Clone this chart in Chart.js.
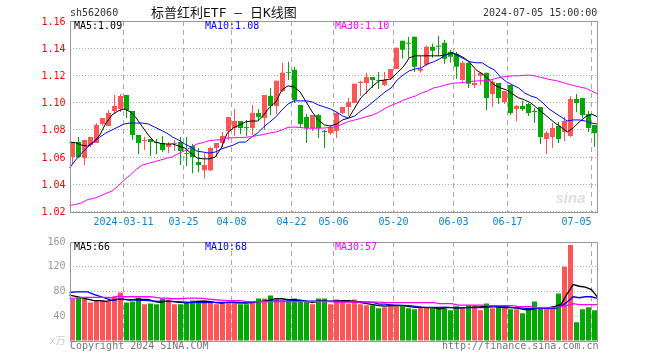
<!DOCTYPE html>
<html>
<head>
<meta charset="utf-8">
<title>sh562060</title>
<script src="https://cdn.jsdelivr.net/npm/chart.js@4/dist/chart.umd.js"></script>
<style>
  html, body { margin:0; padding:0; background:#fff; }
  #wrap { position:relative; width:660px; height:360px; overflow:hidden; }
  canvas { position:absolute; left:0; }
  .txt { position:absolute; font:10px 'DejaVu Sans Mono','Noto Sans CJK SC',monospace; line-height:12px; white-space:pre; }
</style>
</head>
<body>
<div id="wrap">
  <canvas id="chart-k" width="660" height="232" style="top:0"></canvas>
  <canvas id="chart-vol" width="660" height="128" style="top:232px"></canvas>
  <div class="txt" style="left:70px;top:7px;color:#333">sh562060</div>
  <div class="txt" style="left:151px;top:5px;color:#111;font-size:13px;line-height:15px">标普红利ETF — 日K线图</div>
  <div class="txt" style="left:483px;top:7px;color:#333">2024-07-05 15:00:00</div>
  <div class="txt" style="left:70px;top:340px;color:#777">Copyright 2024 SINA.COM</div>
  <div class="txt" style="left:442px;top:340px;color:#777">http://finance.sina.com.cn</div>
</div>
<script>
const dates = [
  '2024-02-27','2024-02-28','2024-02-29','2024-03-01','2024-03-04','2024-03-05','2024-03-06','2024-03-07','2024-03-08',
  '2024-03-11','2024-03-12','2024-03-13','2024-03-14','2024-03-15','2024-03-18','2024-03-19','2024-03-20','2024-03-21','2024-03-22',
  '2024-03-25','2024-03-26','2024-03-27','2024-03-28','2024-03-29','2024-04-01','2024-04-02','2024-04-03',
  '2024-04-08','2024-04-09','2024-04-10','2024-04-11','2024-04-12','2024-04-15','2024-04-16','2024-04-17','2024-04-18','2024-04-19',
  '2024-04-22','2024-04-23','2024-04-24','2024-04-25','2024-04-26','2024-04-29','2024-04-30',
  '2024-05-06','2024-05-07','2024-05-08','2024-05-09','2024-05-10','2024-05-13','2024-05-14','2024-05-15','2024-05-16','2024-05-17',
  '2024-05-20','2024-05-21','2024-05-22','2024-05-23','2024-05-24','2024-05-27','2024-05-28','2024-05-29','2024-05-30','2024-05-31',
  '2024-06-03','2024-06-04','2024-06-05','2024-06-06','2024-06-07','2024-06-11','2024-06-12','2024-06-13','2024-06-14',
  '2024-06-17','2024-06-18','2024-06-19','2024-06-20','2024-06-21','2024-06-24','2024-06-25','2024-06-26','2024-06-27','2024-06-28',
  '2024-07-01','2024-07-02','2024-07-03','2024-07-04','2024-07-05'
];
const xTickDates = ['2024-03-11','2024-03-25','2024-04-08','2024-04-22','2024-05-06','2024-05-20','2024-06-03','2024-06-17','2024-07-05'];

const openPrices = [
  1.0600,1.0710,1.0593,1.0688,1.0703,1.0843,1.0828,1.0939,1.0954,1.1057,1.0939,1.0762,1.0718,1.0733,1.0710,1.0703,1.0674,1.0696,1.0710,1.0629,1.0681,1.0563,
  1.0504,1.0504,1.0666,1.0703,1.0791,1.0814,1.0865,1.0821,1.0814,1.0924,1.0887,1.1049,1.0976,1.1086,1.1226,1.1241,1.0983,1.0895,1.0814,1.0909,1.0791,1.0777,
  1.0791,1.0924,1.0968,1.0998,1.1145,1.1145,1.1189,1.1167,1.1130,1.1182,1.1248,1.1455,1.1440,1.1484,1.1234,1.1278,1.1410,1.1418,1.1440,1.1374,1.1359,1.1167,
  1.1293,1.1130,1.1197,1.1219,1.1064,1.1145,1.1005,1.1130,1.0954,1.0976,1.0990,1.0939,1.0968,1.0733,1.0747,1.0828,1.0784,1.0755,1.1027,1.1035,1.0917,1.0836
];
const closePrices = [
  1.0710,1.0600,1.0725,1.0747,1.0836,1.0887,1.0924,1.0976,1.1049,1.0946,1.0762,1.0703,1.0725,1.0710,1.0703,1.0652,1.0696,1.0703,1.0644,1.0622,1.0600,1.0541,
  1.0541,1.0666,1.0703,1.0755,1.0895,1.0865,1.0814,1.0814,1.0924,1.0895,1.1057,1.0976,1.1160,1.1219,1.1219,1.1020,1.0843,1.0814,1.0909,1.0814,1.0784,1.0821,
  1.0924,1.0968,1.1005,1.1138,1.1153,1.1189,1.1167,1.1160,1.1167,1.1248,1.1403,1.1389,1.1432,1.1263,1.1248,1.1410,1.1381,1.1410,1.1322,1.1337,1.1263,1.1293,
  1.1138,1.1145,1.1219,1.1035,1.1153,1.1035,1.1086,1.0924,1.0976,1.0954,1.0924,1.0931,1.0747,1.0777,1.0814,1.0733,1.0865,1.1027,1.0998,1.0909,1.0814,1.0777
];
const highPrices = [
  1.0710,1.0747,1.0725,1.0747,1.0850,1.0887,1.0946,1.1057,1.1064,1.1057,1.0939,1.0762,1.0747,1.0733,1.0733,1.0755,1.0710,1.0725,1.0747,1.0747,1.0696,1.0666,
  1.0629,1.0674,1.0703,1.0784,1.0895,1.0954,1.0865,1.0873,1.0983,1.0954,1.1057,1.1108,1.1160,1.1293,1.1300,1.1263,1.0983,1.0917,1.0909,1.0917,1.0799,1.0836,
  1.0931,1.0968,1.1035,1.1138,1.1160,1.1219,1.1189,1.1226,1.1226,1.1248,1.1403,1.1455,1.1484,1.1484,1.1344,1.1418,1.1432,1.1491,1.1462,1.1389,1.1374,1.1307,
  1.1293,1.1241,1.1226,1.1219,1.1167,1.1145,1.1086,1.1130,1.0983,1.1013,1.0998,1.0961,1.0968,1.0791,1.0850,1.0858,1.0895,1.1049,1.1064,1.1035,1.0939,1.0836
];
const lowPrices = [
  1.0548,1.0593,1.0541,1.0674,1.0703,1.0828,1.0828,1.0917,1.0931,1.0887,1.0725,1.0622,1.0652,1.0607,1.0622,1.0637,1.0629,1.0644,1.0541,1.0534,1.0482,1.0489,
  1.0445,1.0497,1.0600,1.0674,1.0725,1.0755,1.0769,1.0755,1.0762,1.0865,1.0799,1.0909,1.0917,1.1079,1.1167,1.0998,1.0821,1.0703,1.0791,1.0740,1.0666,1.0762,
  1.0740,1.0917,1.0902,1.0998,1.1049,1.1064,1.1108,1.1101,1.1123,1.1167,1.1248,1.1322,1.1330,1.1226,1.1219,1.1271,1.1330,1.1344,1.1285,1.1293,1.1175,1.1153,
  1.1108,1.1108,1.1130,1.0946,1.0968,1.0990,1.0990,1.0909,1.0865,1.0939,1.0902,1.0850,1.0696,1.0622,1.0666,1.0703,1.0718,1.0747,1.0931,1.0887,1.0784,1.0674
];
const ma5Prices = [
  1.0710,1.0706,1.0688,1.0681,1.0712,1.0762,1.0850,1.0909,1.0939,1.0954,1.0933,1.0887,1.0823,1.0762,1.0712,1.0700,1.0696,1.0696,1.0681,1.0666,1.0629,1.0593,
  1.0587,1.0587,1.0600,1.0666,1.0777,1.0814,1.0836,1.0858,1.0865,1.0865,1.0909,1.0968,1.1005,1.1094,1.1123,1.1116,1.1079,1.1005,1.0931,1.0873,1.0836,1.0828,
  1.0843,1.0873,1.0887,1.0961,1.1035,1.1079,1.1123,1.1160,1.1167,1.1175,1.1219,1.1263,1.1330,1.1344,1.1344,1.1344,1.1344,1.1344,1.1352,1.1366,1.1352,1.1330,
  1.1293,1.1241,1.1212,1.1175,1.1130,1.1108,1.1094,1.1064,1.1035,1.1020,1.0998,1.0961,1.0924,1.0887,1.0850,1.0821,1.0784,1.0814,1.0858,1.0895,1.0917,1.0895
];
const ma10Prices = [
  1.0519,1.0578,1.0629,1.0674,1.0710,1.0747,1.0777,1.0799,1.0821,1.0843,1.0850,1.0850,1.0850,1.0843,1.0821,1.0799,1.0777,1.0747,1.0725,1.0696,1.0674,1.0644,
  1.0637,1.0629,1.0637,1.0659,1.0674,1.0688,1.0710,1.0710,1.0747,1.0777,1.0821,1.0858,1.0895,1.0946,1.0990,1.1013,1.1013,1.1013,1.1005,1.0983,1.0968,1.0954,
  1.0931,1.0902,1.0887,1.0902,1.0939,1.0968,1.1005,1.1042,1.1079,1.1108,1.1167,1.1204,1.1234,1.1248,1.1256,1.1285,1.1300,1.1322,1.1352,1.1366,1.1344,1.1322,
  1.1300,1.1293,1.1293,1.1263,1.1241,1.1189,1.1153,1.1130,1.1108,1.1071,1.1049,1.1035,1.0998,1.0954,1.0924,1.0895,1.0865,1.0873,1.0873,1.0865,1.0850,1.0843
];
const ma30Prices = [
  1.0244,1.0252,1.0263,1.0288,1.0296,1.0313,1.0333,1.0350,1.0386,1.0431,1.0468,1.0510,1.0541,1.0554,1.0566,1.0578,1.0591,1.0602,1.0627,1.0647,1.0672,1.0696,
  1.0706,1.0720,1.0725,1.0728,1.0740,1.0742,1.0744,1.0745,1.0750,1.0759,1.0766,1.0777,1.0784,1.0799,1.0818,1.0821,1.0818,1.0812,1.0812,1.0812,1.0814,1.0818,
  1.0824,1.0843,1.0862,1.0873,1.0884,1.0899,1.0909,1.0931,1.0958,1.0980,1.0998,1.1017,1.1035,1.1049,1.1071,1.1086,1.1108,1.1118,1.1130,1.1142,1.1145,1.1149,
  1.1155,1.1160,1.1160,1.1163,1.1175,1.1186,1.1192,1.1197,1.1197,1.1201,1.1202,1.1193,1.1182,1.1171,1.1163,1.1153,1.1138,1.1127,1.1116,1.1106,1.1086,1.1064
];

const volumes = [
  67.7,70.4,67.7,62.4,65.6,65.6,63.5,72,78.4,62.4,64,69.9,59.2,60.8,59.2,68.8,67.2,59.2,59.2,62.4,65.6,65.6,
  65.6,64,59.2,62.4,62.4,62.4,59.2,59.2,62.4,68.8,68.8,73.6,67.2,65.6,65.6,68.8,64,64,59.2,68.8,68.8,59.2,
  67.2,64,60.8,67.2,59.2,57.6,57.6,52.8,54.4,59.2,56,56,52.8,51.2,54.4,54.4,54.4,54.4,54.4,49.6,56,54.4,
  57.6,57.6,49.6,60.8,52.8,54.4,54.4,51.2,51.2,44.8,51.2,64,52.8,51.2,51.2,76.8,120,155.2,30.4,51.2,54.4,49.6
];
const volMa5 = [
  74.1,72,69.9,67.7,65.1,65.1,64,65.6,67.2,67.2,66.1,67.7,67.2,67.2,63.5,62.4,64.5,64,62.4,61.9,61.9,63.5,
  64.5,64,61.9,61.3,62.4,62.9,62.4,61.3,61.9,63.5,64.5,66.1,68.3,68.3,66.7,66.7,66.1,64.5,61.9,64.5,64.5,64,
  64.5,65.1,65.1,64,61.9,60.3,58.7,57.1,56.5,57.6,57.1,57.1,55.5,54.4,54.4,53.9,53.9,51.7,53.9,53.9,53.3,53.9,
  54.4,54.9,55.5,55.5,55.5,54.4,53.9,53.9,52.8,50.7,50.7,52.8,53.3,53.9,56,59.2,76.3,91.2,88.5,86.9,83.2,70.9
];
const volMa10 = [
  78.4,79.5,79.5,79.5,75.2,72,68.8,65.6,67.7,67.2,66.7,66.1,65.6,65.1,64.5,64,64,63.5,63.5,62.9,62.4,62.4,
  61.9,62.4,62.4,62.4,62.4,62.4,61.3,61.9,62.9,63.5,64,64.5,64.5,64.5,64.5,65.1,65.1,64.5,64.5,64.5,64.5,64.5,
  64.5,64,63.5,63.5,63.5,62.9,62.4,59.7,59.7,58.1,58.1,57.6,57.1,56,54.9,54.4,54.4,54.4,54.9,53.9,53.9,53.9,
  53.9,53.9,53.9,54.9,55.5,55.5,55.5,53.9,53.9,52.8,52.8,52.8,52.8,52.3,52.3,56,62.9,71.5,69.9,71.5,71.5,68.8
];
const volMa30 = [
  68.8,69.3,70.4,70.4,70.4,70.4,70.4,69.9,72.5,71.5,71.5,71.5,71.5,71.5,70.9,69.3,69.3,68.3,68.3,68.8,69.3,69.3,
  68.8,67.7,66.7,66.1,65.1,65.1,65.1,64,63.5,63.5,63.5,63.5,63.5,63.5,63.5,63.5,63.5,63.5,63.5,63.5,63.5,63.5,
  62.9,62.9,62.9,62.9,62.9,62.9,62.9,62.9,61.9,61.9,61.9,61.9,61.9,61.9,61.9,61.9,61.9,60.3,60.3,60.3,58.1,58.1,
  58.1,58.1,58.1,57.1,57.1,57.1,57.1,57.1,55.5,55.5,55.5,53.9,53.9,53.9,53.9,55.5,57.6,60.3,58.7,58.7,58.7,58.7
];

const kLegend = [['MA5:1.09','#000',74],['MA10:1.08','#00f',205],['MA30:1.10','#f0f',335]];
const volLegend = [['MA5:66','#000',74],['MA10:68','#00f',205],['MA30:57','#f0f',335]];

const C = { up:'#ff5555', down:'#00aa00', frame:'#999', grid:'#aaa', price:'#f00', vol:'#999', date:'#0a84d8' };
const FONT = "'DejaVu Sans Mono','Noto Sans CJK SC',monospace";
const isUp = i => closePrices[i] > openPrices[i];
const barColor = ctx => isUp(ctx.dataIndex) ? C.up : C.down;
// non-grouped bars ignore barThickness, so size them from the full category width
const barOpts = { grouped:false, barPercentage:1, categoryPercentage:1, inflateAmount:0, backgroundColor:barColor };

// frame + legend text inside each panel
const panelPlugin = {
  id:'panel',
  beforeDatasetsDraw(chart, args, opts) {
    if (!opts.mark) return;
    const c = chart.ctx, a = chart.chartArea;
    c.save();
    c.fillStyle = '#e0e0e0';
    c.font = "italic bold 15px 'Liberation Sans'";
    c.fillText(opts.mark, a.right - 42, 203);
    c.restore();
  },
  afterDraw(chart, args, opts) {
    const c = chart.ctx, a = chart.chartArea;
    c.save();
    c.strokeStyle = C.frame;
    c.lineWidth = 1;
    c.strokeRect(70.5, Math.round(a.top) + 0.5, 527, Math.round(a.bottom - a.top));
    c.font = '10px ' + FONT;
    c.textBaseline = 'middle';
    opts.legend.forEach(([t, col, x]) => { c.fillStyle = col; c.fillText(t, x, a.top + 5.5); });
    c.restore();
  }
};

function lineSet(data, color, order, width) {
  return { type:'line', data, xAxisID:'x2', borderColor:color, borderWidth:width, pointRadius:0, tension:0, order, fill:false };
}

function xAxes(showLabels, height) {
  return {
    x: {
      offset:true,
      afterFit(s) { s.height = height; },
      border:{ display:false, dash:[5,4] },
      grid:{ offset:true, drawTicks:false, lineWidth:1,
             color:ctx => xTickDates.includes(dates[ctx.index]) ? C.grid : 'transparent' },
      ticks:{ display:showLabels, autoSkip:false, maxRotation:0, padding:5, labelOffset:-3, color:C.date, font:{ family:FONT, size:10 },
        callback:(v, i) => {
          if (!xTickDates.includes(dates[i])) return '';
          if (i === 9) return dates[i];
          return i === dates.length - 1 ? dates[i].slice(5) + '     ' : dates[i].slice(5);
        } }
    },
    x2: { type:'category', labels:dates, offset:false, display:false }
  };
}

new Chart(document.getElementById('chart-k'), {
  data:{ labels:dates, datasets:[
    lineSet(ma30Prices, '#ff00ff', 0, 1),
    lineSet(ma10Prices, '#0000ff', 1, 1),
    lineSet(ma5Prices, '#000000', 2, 1),
    { type:'bar', order:3, ...barOpts, maxBarThickness:5,
      data:dates.map((d, i) => [openPrices[i], closePrices[i]]) },
    { type:'bar', order:4, ...barOpts, maxBarThickness:1,
      data:dates.map((d, i) => [lowPrices[i], highPrices[i]]) }
  ]},
  options:{ responsive:false, animation:false, events:[],
    layout:{ padding:{ top:21, right:62.5, bottom:0, left:0 } },
    plugins:{ legend:{ display:false }, tooltip:{ enabled:false }, panel:{ legend:kLegend, mark:'sina' } },
    scales:{ ...xAxes(true, 20.5),
      y:{ min:1.02, max:1.16, afterFit(s) { s.width = 69.5; },
          border:{ display:false, dash:[1,2] }, grid:{ color:C.grid, drawTicks:false },
          ticks:{ stepSize:0.02, padding:4, labelOffset:1, color:C.price, font:{ family:FONT, size:10 }, callback:v => v.toFixed(2) } }
    }
  },
  plugins:[panelPlugin]
});

new Chart(document.getElementById('chart-vol'), {
  data:{ labels:dates, datasets:[
    lineSet(volMa30, '#ff00ff', 0, 1.3),
    lineSet(volMa10, '#0000ff', 1, 1.3),
    lineSet(volMa5, '#000000', 2, 1.3),
    { type:'bar', order:3, ...barOpts, maxBarThickness:5, data:volumes }
  ]},
  options:{ responsive:false, animation:false, events:[],
    layout:{ padding:{ top:8.5, right:62.5, bottom:0, left:0 } },
    plugins:{ legend:{ display:false }, tooltip:{ enabled:false }, panel:{ legend:volLegend } },
    scales:{ ...xAxes(false, 19),
      y:{ min:0, max:160, afterFit(s) { s.width = 69.5; },
          border:{ display:false, dash:[1,2] }, grid:{ color:C.grid, drawTicks:false },
          ticks:{ stepSize:40, padding:4, font:{ family:FONT, size:10 },
                  color:ctx => ctx.tick.value === 0 ? '#ccc' : C.vol,
                  callback:v => v === 0 ? 'x万' : v } }
    }
  },
  plugins:[panelPlugin]
});
</script>
</body>
</html>
